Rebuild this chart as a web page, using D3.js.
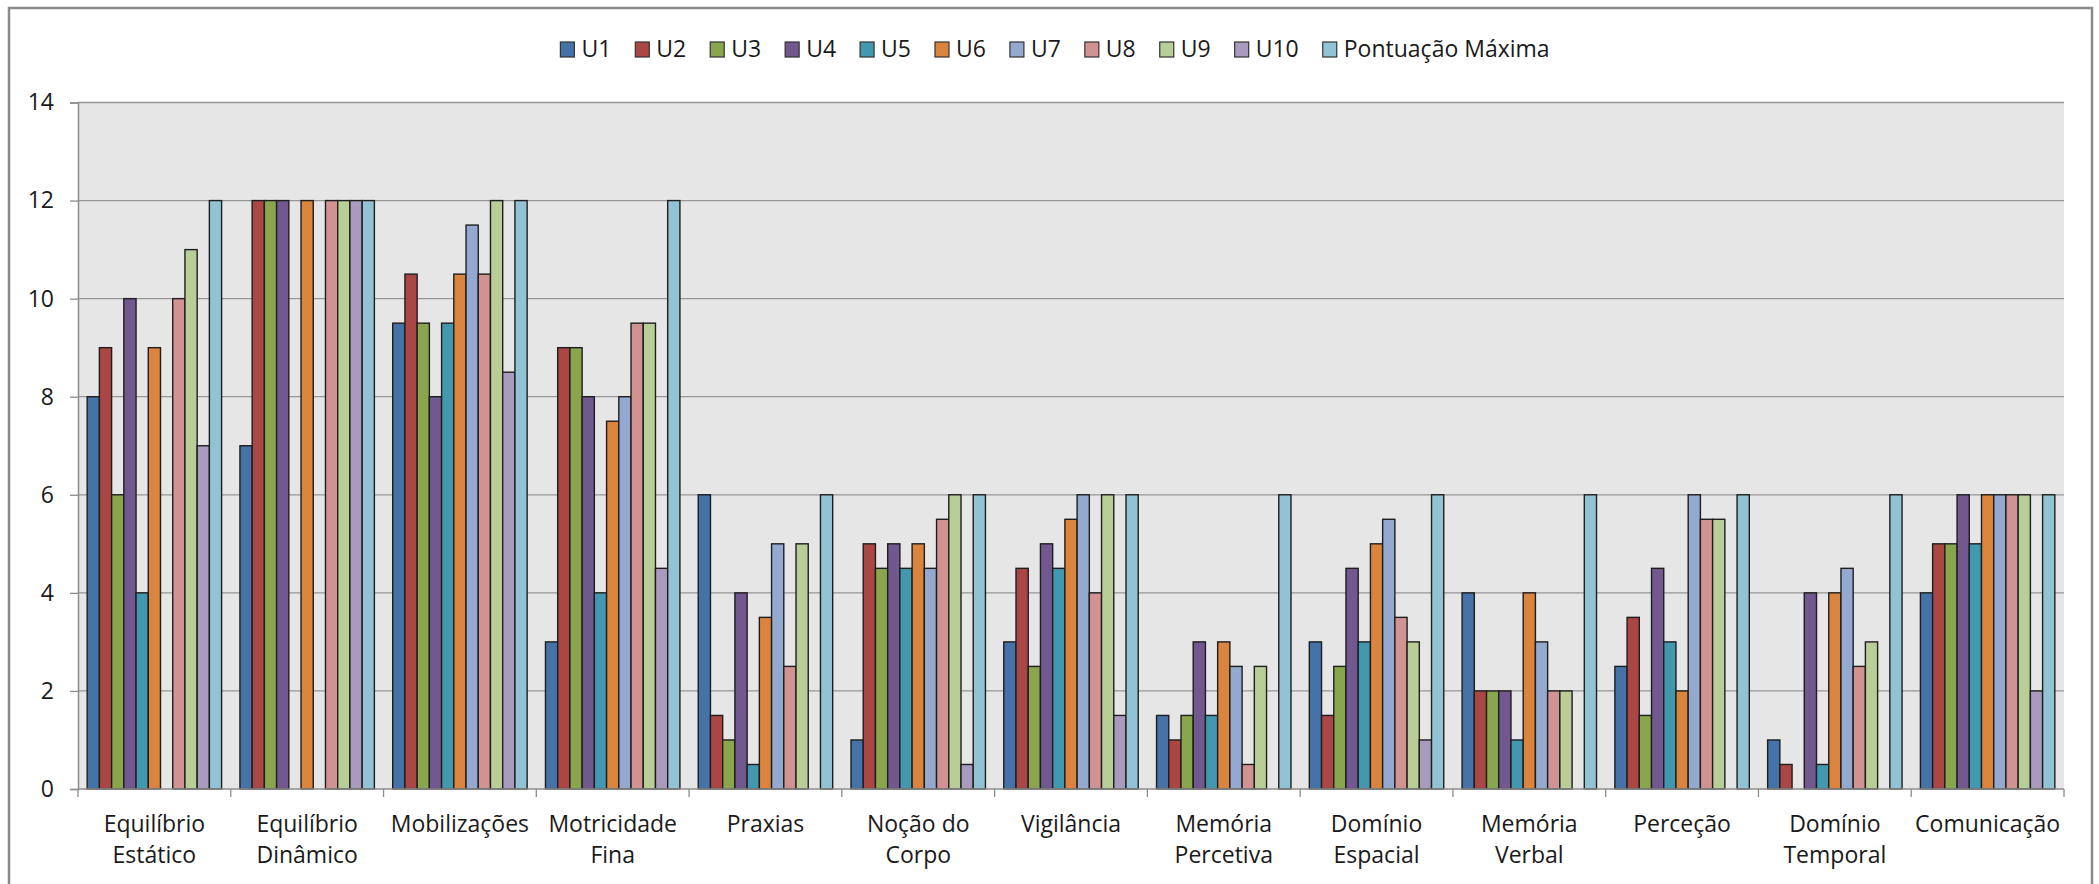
<!DOCTYPE html>
<html>
<head>
<meta charset="utf-8">
<script src="https://cdn.jsdelivr.net/npm/d3@7"></script>
<style>
  body { margin: 0; background: #fff; }
  svg { display: block; font-family: "Open Sans", "Liberation Sans", sans-serif; }
</style>
</head>
<body>
<div id="chart"></div>
<script>
const categories = [
  ["Equilíbrio", "Estático"], ["Equilíbrio", "Dinâmico"], ["Mobilizações"],
  ["Motricidade", "Fina"], ["Praxias"], ["Noção do", "Corpo"], ["Vigilância"],
  ["Memória", "Percetiva"], ["Domínio", "Espacial"], ["Memória", "Verbal"],
  ["Perceção"], ["Domínio", "Temporal"], ["Comunicação"]
];
const seriesNames = ["U1", "U2", "U3", "U4", "U5", "U6", "U7", "U8", "U9", "U10", "Pontuação Máxima"];
const seriesColors = ["#4572A7", "#AA4643", "#89A54E", "#71588F", "#4198AF", "#DB843D",
  "#93A9CF", "#D19392", "#B9CD96", "#A99BBD", "#92C3D4"];

const u1  = [8, 7, 9.5, 3, 6, 1, 3, 1.5, 3, 4, 2.5, 1, 4];
const u2  = [9, 12, 10.5, 9, 1.5, 5, 4.5, 1, 1.5, 2, 3.5, 0.5, 5];
const u3  = [6, 12, 9.5, 9, 1, 4.5, 2.5, 1.5, 2.5, 2, 1.5, 0, 5];
const u4  = [10, 12, 8, 8, 4, 5, 5, 3, 4.5, 2, 4.5, 4, 6];
const u5  = [4, 0, 9.5, 4, 0.5, 4.5, 4.5, 1.5, 3, 1, 3, 0.5, 5];
const u6  = [9, 12, 10.5, 7.5, 3.5, 5, 5.5, 3, 5, 4, 2, 4, 6];
const u7  = [0, 0, 11.5, 8, 5, 4.5, 6, 2.5, 5.5, 3, 6, 4.5, 6];
const u8  = [10, 12, 10.5, 9.5, 2.5, 5.5, 4, 0.5, 3.5, 2, 5.5, 2.5, 6];
const u9  = [11, 12, 12, 9.5, 5, 6, 6, 2.5, 3, 2, 5.5, 3, 6];
const u10 = [7, 12, 8.5, 4.5, 0, 0.5, 1.5, 0, 1, 0, 0, 0, 2];
const pontuacaoMaxima = [12, 12, 12, 12, 6, 6, 6, 6, 6, 6, 6, 6, 6];
const yTicks = [0, 2, 4, 6, 8, 10, 12, 14];

const allSeries = [u1, u2, u3, u4, u5, u6, u7, u8, u9, u10, pontuacaoMaxima];

const W = 2099, H = 884;
const plot = {left: 78, right: 2064, top: 102.5, bottom: 789};

const svg = d3.select("#chart").append("svg")
    .attr("width", W)
    .attr("height", H);

// outer chart frame
svg.append("rect")
    .attr("x", 9).attr("y", 8)
    .attr("width", 2083).attr("height", 900)
    .attr("fill", "#fff")
    .attr("stroke", "#8a8a8a")
    .attr("stroke-width", 2.5);

const catIdx = categories.map((d, i) => i);

const x0 = d3.scaleBand()
    .domain(catIdx)
    .range([plot.left, plot.right])
    .padding(0);

const x1 = d3.scaleBand()
    .domain(seriesNames)
    .range([0, x0.bandwidth()])
    .paddingInner(0)
    .paddingOuter(0.75);

const y = d3.scaleLinear()
    .domain([0, 14])
    .range([plot.bottom, plot.top]);

// plot background
svg.append("rect")
    .attr("x", plot.left).attr("y", plot.top)
    .attr("width", plot.right - plot.left)
    .attr("height", plot.bottom - plot.top)
    .attr("fill", "#e6e6e6");

// gridlines
svg.append("g")
    .selectAll("line")
    .data(yTicks.filter(d => d > 0))
    .enter()
    .append("line")
    .attr("x1", plot.left).attr("x2", plot.right)
    .attr("y1", d => y(d)).attr("y2", d => y(d))
    .attr("stroke", "#969696")
    .attr("stroke-width", 1.3);

// bars
const groups = svg.append("g")
    .selectAll("g")
    .data(allSeries)
    .enter()
    .append("g")
    .attr("fill", (d, i) => seriesColors[i]);

groups.selectAll("rect")
    .data((vals, si) => vals.map((v, ci) => ({v: v, ci: ci, s: seriesNames[si]})).filter(d => d.v > 0))
    .enter()
    .append("rect")
    .attr("x", d => x0(d.ci) + x1(d.s))
    .attr("y", d => y(d.v))
    .attr("width", x1.bandwidth())
    .attr("height", d => y(0) - y(d.v))
    .attr("stroke", "#1e1e1e")
    .attr("stroke-width", 1.4);

// y axis
const yAxis = svg.append("g")
    .attr("transform", `translate(${plot.left},0)`)
    .call(d3.axisLeft(y).tickValues(yTicks).tickSize(8).tickPadding(16));
yAxis.select(".domain").attr("stroke", "#8c8c8c").attr("stroke-width", 1.5);
yAxis.selectAll(".tick line").attr("stroke", "#8c8c8c").attr("stroke-width", 1.3);
yAxis.selectAll(".tick text")
    .attr("font-size", 23)
    .attr("fill", "#1a1a1a")
    .attr("font-family", "'Open Sans', sans-serif");

// x axis line and ticks
svg.append("line")
    .attr("x1", plot.left).attr("x2", plot.right)
    .attr("y1", plot.bottom).attr("y2", plot.bottom)
    .attr("stroke", "#8c8c8c").attr("stroke-width", 1.5);

svg.append("g")
    .selectAll("line")
    .data(d3.range(categories.length + 1))
    .enter()
    .append("line")
    .attr("x1", i => plot.left + i * x0.step())
    .attr("x2", i => plot.left + i * x0.step())
    .attr("y1", plot.bottom).attr("y2", plot.bottom + 8)
    .attr("stroke", "#8c8c8c").attr("stroke-width", 1.3);

// category labels
const catLabels = svg.append("g")
    .selectAll("text")
    .data(categories)
    .enter()
    .append("text")
    .attr("text-anchor", "middle")
    .attr("font-size", 23)
    .attr("fill", "#1a1a1a")
    .attr("x", (d, i) => x0(i) + x0.bandwidth() / 2)
    .attr("y", 832);

catLabels.selectAll("tspan")
    .data(d => d)
    .enter()
    .append("tspan")
    .attr("x", function () { return d3.select(this.parentNode).attr("x"); })
    .attr("dy", (d, i) => i === 0 ? 0 : 31)
    .text(d => d);

// legend
const legend = svg.append("g");
const items = legend.selectAll("g")
    .data(seriesNames)
    .enter()
    .append("g");

items.append("rect")
    .attr("width", 14).attr("height", 15)
    .attr("y", 42)
    .attr("fill", (d, i) => seriesColors[i])
    .attr("stroke", "#333")
    .attr("stroke-width", 1.2);

items.append("text")
    .attr("x", 21)
    .attr("y", 57)
    .attr("font-size", 23)
    .attr("fill", "#1a1a1a")
    .text(d => d);

let pos = 0;
const offsets = [];
items.each(function () {
    offsets.push(pos);
    const tw = d3.select(this).select("text").node().getComputedTextLength();
    pos += 21 + tw + 24;
});
const totalW = pos - 24;
const legendStart = 1055 - totalW / 2;
items.attr("transform", (d, i) => `translate(${legendStart + offsets[i]},0)`);
</script>
</body>
</html>
